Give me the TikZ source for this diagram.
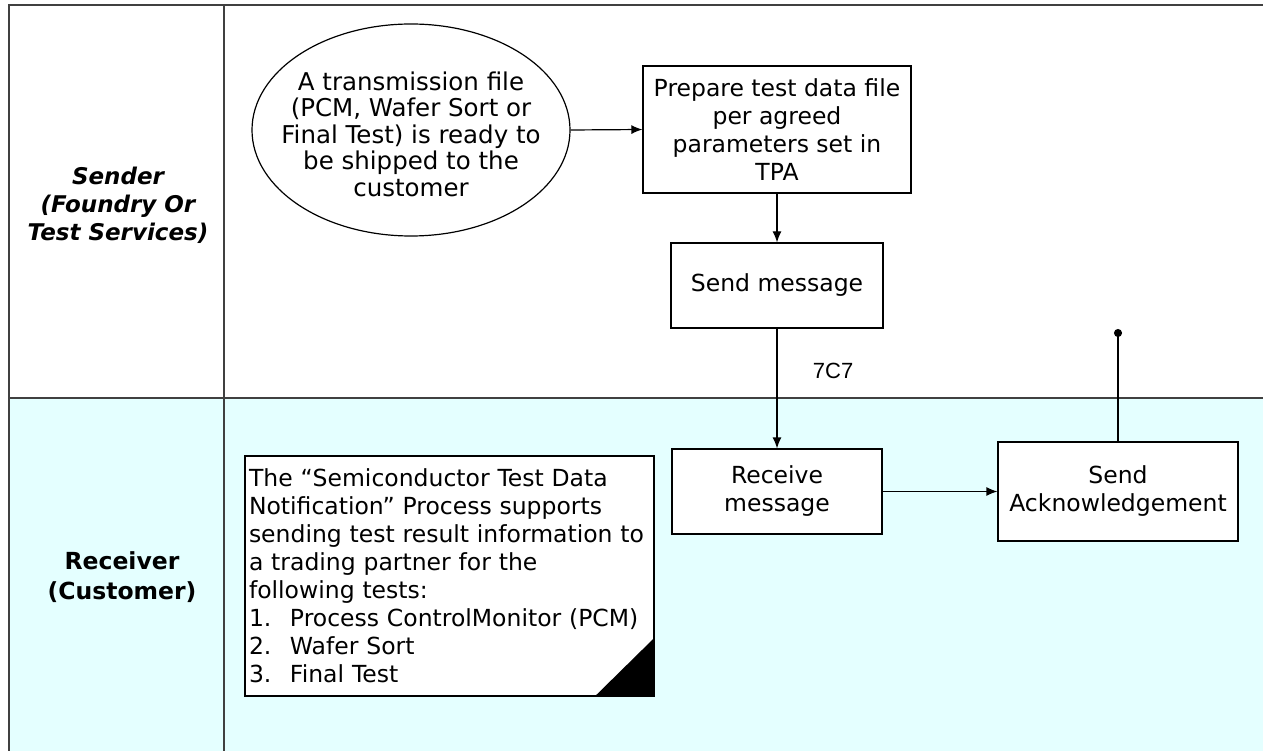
\documentclass[tikz,border=0pt]{standalone}
\usepackage{fontspec}
\setmainfont{DejaVu Sans}
\newfontfamily\labelfont{Liberation Sans}
\usetikzlibrary{shapes.geometric, arrows.meta}

\definecolor{lanecyan}{RGB}{228,255,255}
\definecolor{laneline}{RGB}{64,64,64}

\tikzset{
  flowbox/.style={draw, line width=1.2pt, fill=white, align=center, inner sep=2pt},
  flowarrow/.style={-{Latex[length=11pt,width=9pt]}, line width=1.2pt},
  lanelabel/.style={align=center, font=\fontsize{23}{28}\selectfont\bfseries},
}

\begin{document}
\begin{tikzpicture}[x=1pt, y=-1pt, font=\fontsize{23.5}{28}\selectfont]
  \useasboundingbox (0,0) rectangle (1263,751);
  \fill[white] (0,0) rectangle (1263,751);
  \fill[lanecyan] (9,398) rectangle (1263,751);

  % lanes
  \draw[laneline, line width=2pt] (9,751) -- (9,5) -- (1263,5);
  \draw[laneline, line width=2pt] (9,398) -- (1263,398);
  \draw[laneline, line width=2pt] (224,5) -- (224,751);

  \node[lanelabel, font=\fontsize{23}{28}\selectfont\bfseries\itshape] (sender) at (118,205)
    {Sender\\(Foundry Or\\Test Services)};
  \node[lanelabel, font=\fontsize{23.5}{30}\selectfont\bfseries] (receiver) at (122,577)
    {Receiver\\(Customer)};

  % sender lane
  \node[ellipse, draw, line width=1.2pt, fill=white, minimum width=318pt, minimum height=212pt,
        label={[align=center, yshift=-4pt, font=\fontsize{24.5}{26.5}\selectfont]center:A transmission file\\(PCM, Wafer Sort or\\Final Test) is ready to\\be shipped to the\\customer}]
    (start) at (411,130) {};
  \node[flowbox, minimum width=268pt, minimum height=127pt] (prep) at (777,129.5)
    {Prepare test data file\\per agreed\\parameters set in\\TPA};
  \node[flowbox, minimum width=212pt, minimum height=85pt] (sendmsg) at (777,285.5)
    {Send message};

  % receiver lane
  \node[flowbox, minimum width=210pt, minimum height=85pt] (recvmsg) at (777,491.5)
    {Receive\\message};
  \node[flowbox, minimum width=240pt, minimum height=99pt] (ack) at (1118,491.5)
    {Send\\Acknowledgement};
  \node[draw, line width=1.2pt, fill=white, minimum width=409pt, minimum height=240pt,
        text width=401pt, align=left, inner sep=4pt] (note) at (449.5,576)
    {The “Semiconductor Test Data\\Notification” Process supports\\sending test result information to\\a trading partner for the\\following tests:\\
     \makebox[41pt][l]{1.}Process ControlMonitor (PCM)\\
     \makebox[41pt][l]{2.}Wafer Sort\\
     \makebox[41pt][l]{3.}Final Test};
  \fill (note.south east) -- ++(-60,0) -- ++(60,-59) -- cycle;

  \coordinate (ackend) at (1118,329);

  % connectors
  \draw[flowarrow] (start.east) -- (prep.west);
  \draw[flowarrow] (prep.south) -- (sendmsg.north);
  \draw[flowarrow] (sendmsg.south) -- (recvmsg.north)
    node[pos=0.35, right=32pt, font=\labelfont\fontsize{22}{26}\selectfont] {7C7};
  \draw[flowarrow] (recvmsg.east) -- (ack.west);
  \draw[line width=1.2pt, -{Circle[length=8pt]}] (ack.north) -- (ackend);
\end{tikzpicture}
\end{document}
